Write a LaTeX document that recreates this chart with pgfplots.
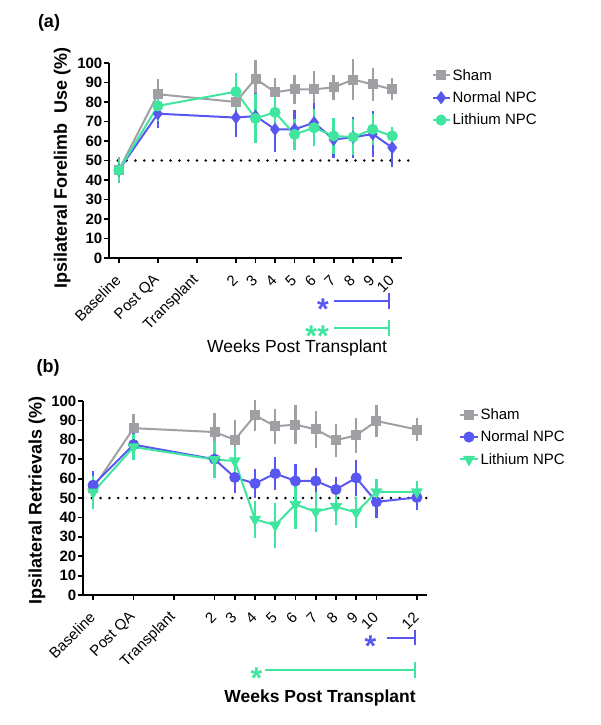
\documentclass[border=0pt]{standalone}
\usepackage{pgfplots}
\pgfplotsset{compat=1.18}
\usepackage{fontspec}
\setmainfont{Liberation Sans}
\definecolor{shamgray}{RGB}{160,160,164}
\definecolor{npcblue}{RGB}{88,88,240}
\definecolor{ligreen}{RGB}{64,230,160}

\tikzset{sigstar/.style={font=\bfseries\fontsize{30}{30}\selectfont, yshift=-8pt}}
\pgfplotsset{
 gpstyle/.style={
  scale only axis,
  axis x line*=bottom, axis y line*=left,
  axis line style={line width=1.8pt,-},
  tick style={line width=1.8pt,black},
  major tick length=5pt,
  tick align=outside,
  ymin=0,ymax=100, ytick={0,10,...,100},
  /pgf/number format/assume math mode=true,
  yticklabel style={font=\bfseries\fontsize{15}{15}\selectfont, inner sep=1.5pt},
  xticklabel style={font=\fontsize{15}{15}\selectfont, rotate=45, anchor=east, inner sep=1pt},
  xticklabel shift=14pt,
  clip=false,
  ylabel style={font=\bfseries\fontsize{18}{18}\selectfont, anchor=center},
  legend style={draw=none, fill=none, font=\fontsize{15}{15}\selectfont, anchor=north west, row sep=6pt},
  legend cell align=left,
 },
 errs/.style={line width=2pt, error bars/.cd, y dir=both, y explicit,
   error bar style={line width=2.3pt}, error mark options={line width=2.3pt, mark size=5pt}},
 dotline/.style={black, line width=2.8pt, line cap=round, dash pattern=on 0pt off 8.8pt, forget plot},
}

\begin{document}
\begin{tikzpicture}[x=1pt,y=1pt]
\useasboundingbox (0,0) rectangle (600,-725);
\node[font=\bfseries\fontsize{18}{18}\selectfont] at (49,-23) {(a)};
\node[font=\bfseries\fontsize{18}{18}\selectfont] at (48,-368) {(b)};

% ---------------- panel (a)
\begin{axis}[gpstyle, at={(109pt,-258pt)}, anchor=south west,
  width=293pt, height=195pt, xmin=-0.5, xmax=14.5,
  xtick={0,2,4,6,7,8,9,10,11,12,13,14},
  xticklabels={Baseline,Post QA,Transplant,2,3,4,5,6,7,8,9,10},
  ylabel={Ipsilateral Forelimb~ Use (\%)},
  ylabel style={at={(axis description cs:-0.16,0.463)}},
  xlabel={Weeks Post Transplant},
  xlabel style={at={(axis description cs:0.642,-0.46)}, anchor=center, font=\fontsize{17.5}{17.5}\selectfont},
  legend style={at={(1.09,0.99)}},
]
\addplot[dotline] coordinates {(-0.5,50) (15,50)};
\addplot[shamgray, mark=square*, mark size=4pt, mark options={solid}, errs] table[x index=0,y index=1,y error index=2] {
0 45 4
2 84 5
6 80 5
7 92 7
8 85 4.5
9 86.5 5
10 86.5 7
11 87.5 4
12 91.5 8
13 89 6
14 86.5 3
};
\addlegendentry{Sham}
\addplot[npcblue, mark=diamond*, mark size=5pt, mark options={solid}, errs] table[x index=0,y index=1,y error index=2] {
0 45 3
2 74 5
6 72 7.5
7 72.8 9
8 66 9
9 66 7.5
10 69.4 7.5
11 60.8 7
12 61.9 8
13 63.6 9
14 56.6 7.5
};
\addlegendentry{Normal NPC}
\addplot[ligreen, mark=*, mark size=4.5pt, mark options={solid}, errs] table[x index=0,y index=1,y error index=2] {
0 45 3
2 78 5
6 85.3 7
7 71.6 10
8 74.7 9
9 63.4 5.5
10 66.8 7
11 62.6 6.5
12 62 6.5
13 66 5.5
14 62.6 2
};
\addlegendentry{Lithium NPC}
\addplot[npcblue, line width=2pt, forget plot] coordinates {(11,-22) (13.82,-22)};
\addplot[npcblue, line width=2pt, forget plot] coordinates {(13.82,-26) (13.82,-18)};
\addplot[ligreen, line width=2pt, forget plot] coordinates {(11,-36) (13.82,-36)};
\addplot[ligreen, line width=2pt, forget plot] coordinates {(13.82,-40) (13.82,-32)};
\node[sigstar, text=npcblue] at (axis cs:10.45,-22) {*};
\node[sigstar, text=ligreen] at (axis cs:10.15,-36) {**};
\end{axis}

% ---------------- panel (b)
\begin{axis}[gpstyle, at={(83pt,-595pt)}, anchor=south west,
  width=344pt, height=194pt, xmin=-0.5, xmax=16.5,
  xtick={0,2,4,6,7,8,9,10,11,12,13,14,16},
  xticklabels={Baseline,Post QA,Transplant,2,3,4,5,6,7,8,9,10,12},
  ylabel={Ipsilateral Retrievals (\%)},
  ylabel style={at={(axis description cs:-0.134,0.485)}},
  xlabel={Weeks Post Transplant},
  xlabel style={at={(axis description cs:0.689,-0.531)}, anchor=center, font=\bfseries\fontsize{17.5}{17.5}\selectfont},
  legend style={at={(1.085,0.983)}},
]
\addplot[dotline] coordinates {(-0.5,50) (16.5,50)};
\addplot[shamgray, mark=square*, mark size=4pt, mark options={solid}, errs] table[x index=0,y index=1,y error index=2] {
0 55 4
2 86 4.5
6 84 7
7 80 7.5
8 92.6 5.5
9 87 6.5
10 87.8 7.5
11 85.4 7
12 79.8 6
13 82.3 6.3
14 89.7 5.7
16 85.3 3.5
};
\addlegendentry{Sham}
\addplot[npcblue, mark=*, mark size=4.5pt, mark options={solid}, errs] table[x index=0,y index=1,y error index=2] {
0 56.6 4.5
2 77.5 4
6 70 7
7 60.6 5.5
8 57.5 5
9 62.6 6
10 58.8 6
11 58.8 4
12 54.4 4
13 60.4 6.6
14 48 5.5
16 50.3 4
};
\addlegendentry{Normal NPC}
\addplot[ligreen, mark=triangle*, mark size=5pt, mark options={solid, rotate=180}, errs] table[x index=0,y index=1,y error index=2] {
0 53 6
2 76.3 4
6 69.8 7
7 69.1 4.5
8 39 7
9 36 9
10 46.7 10
11 42.9 7.7
12 45.5 7
13 42.5 5.3
14 53.2 4
16 53.2 3
};
\addlegendentry{Lithium NPC}
\addplot[npcblue, line width=2pt, forget plot] coordinates {(14.5,-22) (15.9,-22)};
\addplot[npcblue, line width=2pt, forget plot] coordinates {(15.9,-26) (15.9,-18)};
\addplot[ligreen, line width=2pt, forget plot] coordinates {(8.5,-38.6) (15.9,-38.6)};
\addplot[ligreen, line width=2pt, forget plot] coordinates {(15.9,-42.6) (15.9,-34.6)};
\node[sigstar, text=npcblue] at (axis cs:13.7,-22) {*};
\node[sigstar, text=ligreen] at (axis cs:8.07,-38.6) {*};
\end{axis}
\end{tikzpicture}
\end{document}
